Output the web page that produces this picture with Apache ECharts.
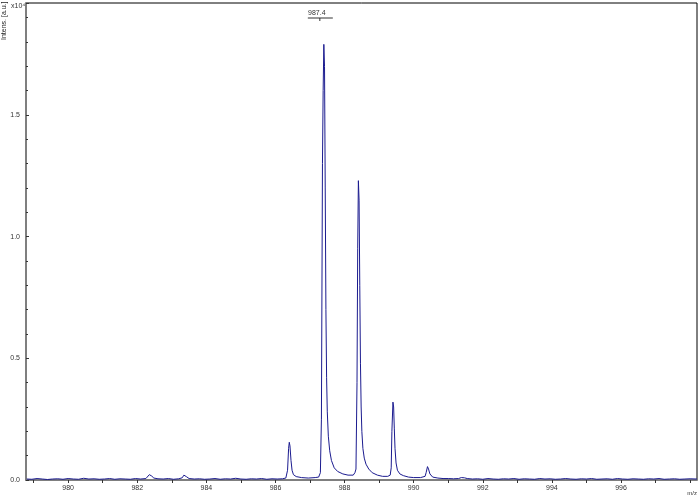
<!DOCTYPE html>
<html><head><meta charset="utf-8">
<script src="https://cdn.jsdelivr.net/npm/echarts@6/dist/echarts.min.js"></script>
<style>html,body{margin:0;padding:0;background:#fff}#c{width:700px;height:498px}</style>
</head><body><div id="c"></div>
<script>
// m/z values and intensities (x10^4, a.u.)
const mz = [
978.80,978.95,979.10,979.25,979.40,979.55,979.70,979.85,980.00,980.15,980.30,980.45,980.60,980.75,980.90,981.05,981.20,981.35,981.50,981.65,981.80,981.95,982.10,982.25,
982.30,982.35,982.38,982.42,982.48,982.60,982.75,982.90,983.05,983.20,983.30,983.35,983.38,983.43,983.50,983.65,983.80,983.95,984.10,984.25,984.40,984.55,984.70,984.85,985.00,985.15,985.30,985.45,985.60,985.75,985.90,986.05,986.20,
986.30,986.35,986.38,986.40,986.42,986.45,986.48,986.52,986.60,986.75,986.95,987.15,
987.25,987.30,987.33,987.36,987.38,987.40,987.42,987.44,987.46,987.48,987.50,987.53,987.57,987.62,987.70,987.80,987.95,988.10,988.25,988.30,
988.33,988.36,988.38,988.40,988.42,988.44,988.46,988.48,988.50,988.53,988.57,988.62,988.70,988.80,988.95,989.10,989.25,989.32,
989.35,989.37,989.40,989.42,989.44,989.46,989.49,989.53,989.60,989.70,989.85,990.00,990.20,990.33,
990.36,990.40,990.43,990.47,990.55,990.70,990.85,991.00,991.15,991.30,991.38,991.42,991.47,991.55,
991.70,991.85,992.00,992.15,992.30,992.45,992.60,992.75,992.90,993.05,993.20,993.35,993.50,993.65,993.80,993.95,994.10,994.25,994.40,994.55,994.70,994.85,995.00,995.15,995.30,995.45,995.60,995.75,995.90,996.05,996.20,996.35,996.50,996.65,996.80,996.95,997.10,997.25,997.40,997.55,997.70,997.85,998.00,998.20
];
const intensity = [
0.004,0.003,0.006,0.004,0.002,0.004,0.005,0.003,0.006,0.004,0.003,0.007,0.004,0.005,0.003,0.004,0.006,0.003,0.005,0.004,0.003,0.006,0.004,0.006,
0.010,0.022,0.025,0.016,0.008,0.005,0.004,0.006,0.003,0.005,0.009,0.020,0.022,0.013,0.006,0.004,0.005,0.003,0.004,0.006,0.003,0.005,0.004,0.007,0.004,0.003,0.005,0.004,0.006,0.003,0.005,0.004,0.005,
0.008,0.040,0.130,0.155,0.140,0.080,0.040,0.022,0.014,0.010,0.008,0.010,
0.012,0.030,0.250,1.300,1.600,1.790,1.700,1.200,0.700,0.420,0.280,0.180,0.120,0.080,0.050,0.035,0.025,0.020,0.020,0.030,
0.045,0.400,0.950,1.230,1.150,0.800,0.480,0.300,0.200,0.130,0.090,0.065,0.045,0.030,0.020,0.015,0.015,0.020,
0.050,0.200,0.320,0.300,0.210,0.130,0.070,0.040,0.025,0.018,0.012,0.010,0.010,0.015,
0.030,0.055,0.045,0.025,0.012,0.008,0.006,0.006,0.005,0.006,0.010,0.013,0.009,0.006,
0.004,0.005,0.003,0.006,0.004,0.003,0.005,0.004,0.006,0.003,0.005,0.004,0.003,0.006,0.004,0.005,0.003,0.004,0.006,0.004,0.003,0.005,0.004,0.006,0.003,0.004,0.005,0.003,0.006,0.004,0.003,0.005,0.004,0.003,0.005,0.004,0.006,0.003,0.004,0.005,0.003,0.004,0.005,0.004
];
const xTickValues = [979,980,981,982,983,984,985,986,987,988,989,990,991,992,993,994,995,996,997,998];
const xLabelValues = [980,982,984,986,988,990,992,994,996];
const peakLabels = [[987.4, '987.4']];

const lineColor = '#1b1b8f';
const chart = echarts.init(document.getElementById('c'));
const txtStyle = {fontFamily: 'Liberation Sans, Arial, sans-serif', fontSize: 7, color: '#333'};

chart.setOption({
  animation: false,
  grid: {left: 26, right: 3, top: 3, bottom: 18, show: true, borderColor: '#000', borderWidth: 1},
  xAxis: {
    type: 'value', min: 978.78, max: 998.2,
    axisLine: {show: true, onZero: false, lineStyle: {color: '#7f7f7f', width: 2}},
    axisTick: {show: true, customValues: xTickValues, length: 3, lineStyle: {color: '#333'}},
    axisLabel: Object.assign({customValues: xLabelValues, margin: 5, formatter: v => String(Math.round(v))}, txtStyle),
    splitLine: {show: false}
  },
  yAxis: {
    type: 'value', min: 0, max: 1.96, interval: 0.5,
    axisLine: {show: true, lineStyle: {color: '#7f7f7f', width: 2}},
    axisTick: {show: true, inside: true, length: 3, lineStyle: {color: '#333'}},
    minorTick: {show: true, splitNumber: 5, length: 2, lineStyle: {color: '#333'}},
    axisLabel: Object.assign({margin: 6, formatter: v => v.toFixed(1), showMaxLabel: false}, txtStyle),
    splitLine: {show: false}
  },
  series: [
    {
      type: 'line', symbol: 'none', smooth: false,
      lineStyle: {color: lineColor, width: 1},
      data: mz.map((m, i) => [m, intensity[i]]),
      z: 3
    },
    {
      type: 'custom',
      data: peakLabels.map(p => [p[0]]),
      renderItem: function (params, api) {
        const x = api.coord([api.value(0), 0])[0];
        const top = params.coordSys.y;
        return {type: 'group', children: [
          {type: 'text', style: {text: peakLabels[params.dataIndex][1], x: x - 7, y: top + 10, align: 'center', verticalAlign: 'middle', font: '7px Liberation Sans, Arial, sans-serif', fill: '#333'}},
          {type: 'line', shape: {x1: x - 16, y1: top + 15, x2: x + 9, y2: top + 15}, style: {stroke: '#333', lineWidth: 1}},
          {type: 'line', shape: {x1: x - 4, y1: top + 15, x2: x - 4, y2: top + 18}, style: {stroke: '#333', lineWidth: 1}}
        ]};
      },
      z: 4
    }
  ],
  graphic: [
    {type: 'text', x: 4, y: 40, rotation: Math.PI / 2, style: {text: 'Intens. [a.u.]', font: '7px Liberation Sans, Arial, sans-serif', fill: '#222', align: 'left', verticalAlign: 'middle'}},
    {type: 'text', x: 11, y: 3, style: {text: 'x10\u2074', font: '7px Liberation Sans, Arial, sans-serif', fill: '#333'}},
    {type: 'text', right: 3, bottom: 2, style: {text: 'm/z', font: '6px Liberation Sans, Arial, sans-serif', fill: '#333'}}
  ]
});
</script>
</body></html>
